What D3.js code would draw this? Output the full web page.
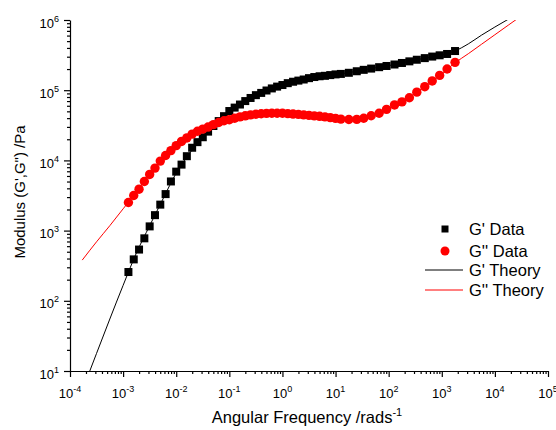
<!DOCTYPE html>
<html>
<head>
<meta charset="utf-8">
<script src="https://cdn.jsdelivr.net/npm/d3@7"></script>
<style>
  body { margin: 0; background: #fff; }
  svg { display: block; font-family: "Liberation Sans", Arial, sans-serif; }
</style>
</head>
<body>
<svg id="chart" width="556" height="430"></svg>
<script>
// measured data (rad/s, Pa)
const freq = [0.001259, 0.001585, 0.001995, 0.002512, 0.003162, 0.003981, 0.005012, 0.00631, 0.007943, 0.01,
  0.01259, 0.01585, 0.01995, 0.02512, 0.03162, 0.03981, 0.05012, 0.0631, 0.07943, 0.1,
  0.1259, 0.1585, 0.1995, 0.2512, 0.3162, 0.3981, 0.5012, 0.631, 0.7943, 1,
  1.259, 1.585, 1.995, 2.512, 3.162, 3.981, 5.012, 6.31, 7.943, 10,
  12.6, 17.8, 25.1, 33.9, 46.8, 66.1, 91.2, 128.8, 177.8, 245.5, 338.8, 478.6, 660.7, 912, 1259, 1778];
const gPrime = [257, 389, 537, 776, 1148, 1660, 2344, 3311, 5012, 6918,
  8710, 11480, 15140, 18200, 21380, 25700, 30900, 36310, 42660, 50500,
  56500, 62500, 70000, 77500, 85000, 91500, 99000, 106000, 112500, 118500,
  126000, 132000, 137000, 142000, 148500, 154000, 158000, 160300, 164100, 167900,
  170600, 177000, 186200, 195000, 203200, 212800, 221300, 232300, 244300, 257600, 271600, 286400, 301300, 314100, 328100, 361400];
const gDouble = [2512, 3162, 3890, 5012, 6310, 7762, 9772, 11750, 13800, 16220,
  18620, 20890, 23710, 26000, 27860, 29850, 32360, 34670, 36730, 38020,
  39810, 41690, 43150, 44460, 45500, 46240, 46770, 46990, 46990, 46880,
  46350, 45710, 45190, 44460, 43750, 43050, 42460, 41690, 40740, 39630,
  38730, 38190, 38460, 39810, 43250, 46990, 53330, 61660, 68080, 78160, 93760, 112200, 135500, 162600, 200400, 249500];

// model curves
const theoryFreq = [0.00017, 0.000316, 0.000562, 0.001, 0.001778, 0.003162, 0.005623, 0.01, 0.01778, 0.03162,
  0.05623, 0.1, 0.1778, 0.3162, 0.5623, 1, 1.778, 3.162, 5.623, 10,
  17.78, 31.62, 56.23, 100, 177.8, 316.2, 562.3, 1000, 1778, 3162, 5623, 10000, 17780, 31620];
const theoryGp = [5.25, 17.8, 55, 166, 479, 1175, 2818, 6607, 12590, 21880,
  33880, 49000, 66000, 85500, 103000, 118500, 134000, 147900, 158500, 167900,
  177800, 192800, 208900, 223900, 245500, 269200, 291700, 319900, 363100, 457100, 609500, 794300, 1023000, 1318000];
const theoryGpp = [380, 692, 1175, 2042, 3548, 6457, 10960, 16220, 22390, 28180,
  33880, 38900, 42660, 45710, 46990, 46770, 45710, 43650, 42170, 39810,
  38460, 39360, 44670, 54950, 69180, 90160, 123000, 171800, 245500, 331100, 451900, 616600, 841400, 1148000];

const xExps = [-4, -3, -2, -1, 0, 1, 2, 3, 4, 5];
const yExps = [1, 2, 3, 4, 5, 6];
const legendLabels = ["G' Data", "G'' Data", "G' Theory", "G'' Theory"];

const margin = {left: 70, top: 20, right: 8, bottom: 59};
const W = 556, H = 430;
const iw = W - margin.left - margin.right, ih = H - margin.top - margin.bottom;

const svg = d3.select('#chart');
const g = svg.append('g').attr('transform', `translate(${margin.left},${margin.top})`);

const x = d3.scaleLog().domain([1e-4, 1e5]).range([0, iw]);
const y = d3.scaleLog().domain([10, 1e6]).range([ih, 0]);

function minorTicks(exps) {
  let out = [];
  for (let i = 0; i < exps.length - 1; i++)
    for (let k = 2; k < 10; k++) out.push(k * Math.pow(10, exps[i]));
  return out;
}

// axes: minor ticks, then major ticks with the axis line
g.append('g').call(d3.axisLeft(y).tickValues(minorTicks(yExps)).tickSize(3).tickSizeOuter(0).tickFormat(''))
  .call(a => a.select('.domain').remove());
g.append('g').call(d3.axisLeft(y).tickValues(yExps.map(e => Math.pow(10, e))).tickSize(6).tickSizeOuter(0).tickFormat(''));
g.append('g').call(d3.axisBottom(x).tickValues(minorTicks(xExps)).tickSize(3).tickSizeOuter(0).tickFormat(''))
  .attr('transform', `translate(0,${ih})`).call(a => a.select('.domain').remove());
g.append('g').attr('transform', `translate(0,${ih})`)
  .call(d3.axisBottom(x).tickValues(xExps.map(e => Math.pow(10, e))).tickSize(6).tickSizeOuter(0).tickFormat(''));
g.selectAll('.domain, .tick line').attr('stroke', '#000').attr('stroke-width', 1.2);

yExps.forEach(e => {
  let t = g.append('text').attr('x', -11).attr('y', y(Math.pow(10, e)) + 3).attr('dy', '0.35em')
    .attr('text-anchor', 'end').style('font-size', '13px');
  t.append('tspan').text('10');
  t.append('tspan').attr('dy', -6).style('font-size', '9px').text(e);
});
xExps.forEach(e => {
  let t = g.append('text').attr('x', x(Math.pow(10, e))).attr('y', ih + 27)
    .attr('text-anchor', 'middle').style('font-size', '13px');
  t.append('tspan').text('10');
  t.append('tspan').attr('dy', -6).style('font-size', '9px').text(e);
});

// titles
svg.append('text').attr('transform', 'translate(25,192) rotate(-90)').attr('text-anchor', 'middle')
  .style('font-size', '15px').text('Modulus (G\',G") /Pa');
let xt = svg.append('text').attr('x', 307).attr('y', 423).attr('text-anchor', 'middle').style('font-size', '16.5px');
xt.append('tspan').text('Angular Frequency /rads');
xt.append('tspan').attr('dy', -7).style('font-size', '11px').text('-1');

// clip
svg.append('defs').append('clipPath').attr('id', 'clip').append('rect').attr('width', iw).attr('height', ih);
const plot = g.append('g').attr('clip-path', 'url(#clip)');

const line = d3.line().x(d => x(d[0])).y(d => y(d[1])).curve(d3.curveMonotoneX);
plot.append('path').datum(d3.zip(theoryFreq, theoryGp)).attr('d', line)
  .attr('fill', 'none').attr('stroke', '#000').attr('stroke-width', 1);
plot.append('path').datum(d3.zip(theoryFreq, theoryGpp)).attr('d', line)
  .attr('fill', 'none').attr('stroke', '#ff0000').attr('stroke-width', 1);

const sq = 8;
plot.selectAll('rect.gp').data(d3.zip(freq, gPrime)).enter().append('rect').attr('class', 'gp')
  .attr('x', d => x(d[0]) - sq / 2).attr('y', d => y(d[1]) - sq / 2)
  .attr('width', sq).attr('height', sq).attr('fill', '#000');
plot.selectAll('circle.gpp').data(d3.zip(freq, gDouble)).enter().append('circle').attr('class', 'gpp')
  .attr('cx', d => x(d[0])).attr('cy', d => y(d[1])).attr('r', 4.7).attr('fill', '#ff0000');

// legend
const leg = svg.append('g');
const rows = [229, 251, 270, 290];
leg.append('rect').attr('x', 441.5).attr('y', rows[0] - 3.5).attr('width', 7).attr('height', 7).attr('fill', '#000');
leg.append('circle').attr('cx', 445).attr('cy', rows[1]).attr('r', 4.5).attr('fill', '#ff0000');
leg.append('line').attr('x1', 425).attr('x2', 463).attr('y1', rows[2]).attr('y2', rows[2]).attr('stroke', '#000');
leg.append('line').attr('x1', 425).attr('x2', 463).attr('y1', rows[3]).attr('y2', rows[3]).attr('stroke', '#ff0000');
legendLabels.forEach((l, i) => {
  leg.append('text').attr('x', 469).attr('y', rows[i]).attr('dy', '0.35em').style('font-size', '16.5px').text(l);
});
</script>
</body>
</html>
